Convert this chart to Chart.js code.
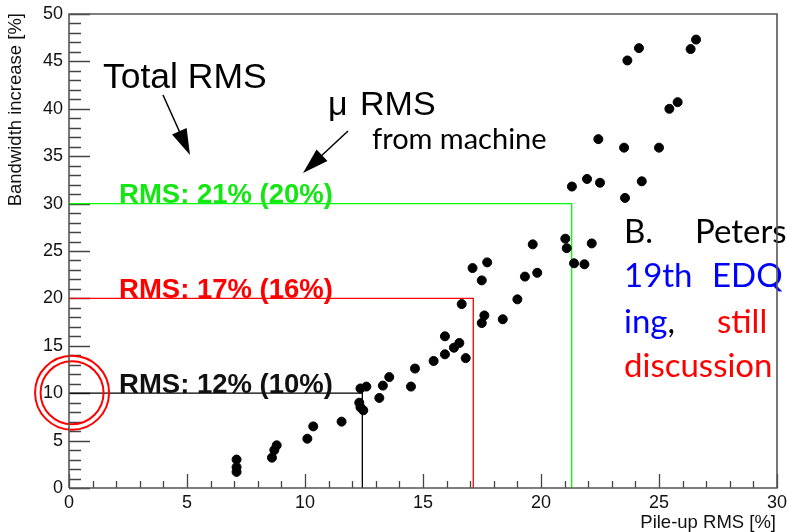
<!DOCTYPE html>
<html>
<head>
<meta charset="utf-8">
<script src="https://cdn.jsdelivr.net/npm/chart.js@4/dist/chart.umd.min.js"></script>
<style>
  html, body { margin: 0; padding: 0; background: #fff; }
  #wrap { width: 787px; height: 532px; position: relative; }
</style>
</head>
<body>
<div id="wrap"><canvas id="myChart"></canvas></div>
<script>
// measured points: pile-up RMS [%] vs bandwidth increase [%]
const pileUpRms = [7.1, 7.1, 7.1, 8.8, 8.7, 8.6, 10.1, 10.35, 11.55, 12.3, 12.35, 12.47, 12.35, 12.6,
  13.15, 13.3, 13.57, 14.49, 14.66, 15.45, 15.93, 15.93, 16.31, 16.54, 16.81, 16.64, 17.49, 17.6, 18.38,
  17.1, 17.49, 17.72, 19.0, 19.32, 19.84, 19.65, 21.03, 21.09, 21.4, 21.84, 22.15, 21.31, 21.95, 22.5,
  23.56, 24.27, 22.43, 23.52, 25.0, 25.44, 25.79, 23.66, 24.15, 26.34, 26.57];
const bandwidthIncrease = [3.0, 2.2, 1.7, 4.5, 4.0, 3.2, 5.2, 6.5, 7.0, 9.0, 8.5, 8.2, 10.5, 10.7,
  9.5, 10.8, 11.7, 10.7, 12.6, 13.4, 14.1, 16.0, 14.8, 15.3, 13.7, 19.4, 17.4, 18.2, 17.8,
  23.2, 21.9, 23.8, 19.9, 22.3, 22.7, 25.7, 26.3, 25.3, 23.7, 23.6, 25.8, 31.8, 32.6, 32.2,
  30.6, 32.35, 36.8, 35.9, 35.9, 40.0, 40.7, 45.1, 46.4, 46.3, 47.3];

// bandwidth cuts and the RMS where they are reached
const cutLevels = [30, 20, 10];
const cutRms = [21.3, 17.13, 12.43];
const cutLabels = ['RMS: 21% (20%)', 'RMS: 17% (16%)', 'RMS: 12% (10%)'];
const cutColors = ['#00ff00', '#ff0000', '#000000'];
const cutTextColors = ['#14e614', '#ff0000', '#111111'];

const xMin = 0, xMax = 30, yMin = 0, yMax = 50;

const points = pileUpRms.map((x, i) => ({ x: x, y: bandwidthIncrease[i] }));

const datasets = [{
  label: 'data',
  data: points,
  backgroundColor: '#000',
  borderColor: '#000',
  borderWidth: 1,
  pointRadius: 4.5,
  showLine: false
}];
cutLevels.forEach((lvl, i) => {
  datasets.push({
    label: cutLabels[i],
    data: [{ x: xMin, y: lvl }, { x: cutRms[i], y: lvl }, { x: cutRms[i], y: yMin }],
    borderColor: cutColors[i],
    backgroundColor: cutColors[i],
    borderWidth: 1.3,
    pointRadius: 0,
    showLine: true,
    fill: false,
    tension: 0
  });
});

const fontAxis = '"Liberation Sans", Arial, sans-serif';
const fontSlide = 'Lato, "DejaVu Sans", sans-serif';

function arrow(ctx, x0, y0, x1, y1, len, half) {
  const a = Math.atan2(y1 - y0, x1 - x0);
  ctx.beginPath();
  ctx.moveTo(x0, y0);
  ctx.lineTo(x1 - Math.cos(a) * len * 0.8, y1 - Math.sin(a) * len * 0.8);
  ctx.stroke();
  ctx.beginPath();
  ctx.moveTo(x1, y1);
  ctx.lineTo(x1 - Math.cos(a) * len + Math.sin(a) * half, y1 - Math.sin(a) * len - Math.cos(a) * half);
  ctx.lineTo(x1 - Math.cos(a) * len - Math.sin(a) * half, y1 - Math.sin(a) * len + Math.cos(a) * half);
  ctx.closePath();
  ctx.fill();
}

const overlay = {
  id: 'overlay',
  beforeDatasetsDraw(chart) {
    const ctx = chart.ctx;
    const xs = chart.scales.x, ys = chart.scales.y;
    const a = chart.chartArea;
    ctx.save();
    ctx.strokeStyle = '#444';
    ctx.lineWidth = 1.3;
    // inward tick marks
    ctx.beginPath();
    for (let v = yMin; v <= yMax; v++) {
      const py = Math.round(ys.getPixelForValue(v)) + 0.5;
      const len = v % 5 === 0 ? 21 : 12;
      ctx.moveTo(a.left, py);
      ctx.lineTo(a.left + len, py);
    }
    for (let v = xMin; v <= xMax; v++) {
      const px = Math.round(xs.getPixelForValue(v)) + 0.5;
      const len = v % 5 === 0 ? 14 : 7;
      ctx.moveTo(px, a.bottom);
      ctx.lineTo(px, a.bottom - len);
    }
    ctx.stroke();
    ctx.restore();
  },
  afterDatasetsDraw(chart) {
    const ctx = chart.ctx;
    const xs = chart.scales.x, ys = chart.scales.y;
    ctx.save();

    // cut labels sitting on their lines
    ctx.font = 'bold 27.5px ' + fontAxis;
    ctx.textBaseline = 'alphabetic';
    cutLevels.forEach((lvl, i) => {
      ctx.fillStyle = cutTextColors[i];
      ctx.fillText(cutLabels[i], xs.getPixelForValue(2.12), ys.getPixelForValue(lvl) - 0.5);
    });

    // red double circle around 10 %
    ctx.strokeStyle = '#ff0000';
    ctx.lineWidth = 2;
    const cx = xs.getPixelForValue(0.13), cy = ys.getPixelForValue(10.05);
    [37, 31.5].forEach(r => {
      ctx.beginPath();
      ctx.arc(cx, cy, r, 0, Math.PI * 2);
      ctx.stroke();
    });

    // slide annotations
    ctx.fillStyle = '#000';
    ctx.font = '35.5px ' + fontAxis;
    ctx.fillText('Total RMS', 103, 88);
    ctx.font = '34px ' + fontAxis;
    ctx.fillText('\u03bc', 328, 115);
    ctx.fillText('RMS', 360, 115);
    ctx.font = '29px ' + fontSlide;
    ctx.fillText('from machine', 372, 149);

    ctx.strokeStyle = '#000';
    ctx.lineWidth = 1.5;
    arrow(ctx, 163, 95, 190, 155, 26, 8);
    arrow(ctx, 348, 131, 303, 173, 26, 8);

    ctx.font = '33px ' + fontSlide;
    ctx.fillStyle = '#000';
    ctx.fillText('B.', 624, 243);
    ctx.fillText('Peters', 695, 243);
    ctx.fillStyle = '#0000ff';
    ctx.fillText('19th', 624, 287);
    ctx.fillText('EDQ', 712, 287);
    ctx.fillText('ing', 624, 333);
    const w = ctx.measureText('ing').width;
    ctx.fillStyle = '#000';
    ctx.fillText(',', 624 + w, 333);
    ctx.fillStyle = '#ff0000';
    ctx.fillText('still', 717, 333);
    ctx.fillText('discussion', 624, 377);
    ctx.restore();
  },
  afterDraw(chart) {
    const ctx = chart.ctx;
    const a = chart.chartArea;
    ctx.save();
    // frame and axes
    ctx.strokeStyle = '#555';
    ctx.lineWidth = 1.6;
    ctx.beginPath();
    ctx.moveTo(a.left, a.bottom);
    ctx.lineTo(a.left, a.top);
    ctx.lineTo(a.right, a.top);
    ctx.lineTo(a.right, a.bottom);
    ctx.lineTo(a.left, a.bottom);
    ctx.stroke();

    // axis titles
    ctx.fillStyle = '#111';
    ctx.font = '18.5px ' + fontAxis;
    ctx.textAlign = 'right';
    ctx.textBaseline = 'alphabetic';
    ctx.fillText('Pile-up RMS [%]', a.right - 1, 528);
    ctx.translate(21, a.top - 1);
    ctx.rotate(-Math.PI / 2);
    ctx.fillText('Bandwidth increase [%]', 0, 0);
    ctx.restore();
  }
};

const config = {
  type: 'scatter',
  data: { datasets: datasets },
  options: {
    responsive: true,
    maintainAspectRatio: false,
    animation: false,
    layout: { padding: { top: 14, right: 10, left: 0, bottom: 0 } },
    plugins: { legend: { display: false }, tooltip: { enabled: false }, title: { display: false } },
    scales: {
      x: {
        type: 'linear',
        min: xMin,
        max: xMax,
        grid: { display: false, drawTicks: false },
        border: { display: false },
        afterFit: (s) => { s.height = 44; s.paddingLeft = 0; s.paddingRight = 0; },
        ticks: {
          stepSize: 5,
          padding: 4,
          maxRotation: 0,
          autoSkip: false,
          color: '#111',
          font: { family: fontAxis, size: 18 }
        }
      },
      y: {
        type: 'linear',
        min: yMin,
        max: yMax,
        grid: { display: false, drawTicks: false },
        border: { display: false },
        afterFit: (s) => { s.width = 69; s.paddingTop = 0; s.paddingBottom = 0; },
        ticks: {
          stepSize: 5,
          padding: 6,
          autoSkip: false,
          color: '#111',
          font: { family: fontAxis, size: 18 }
        }
      }
    }
  },
  plugins: [overlay]
};

const myChart = new Chart(document.getElementById('myChart'), config);
</script>
</body>
</html>
